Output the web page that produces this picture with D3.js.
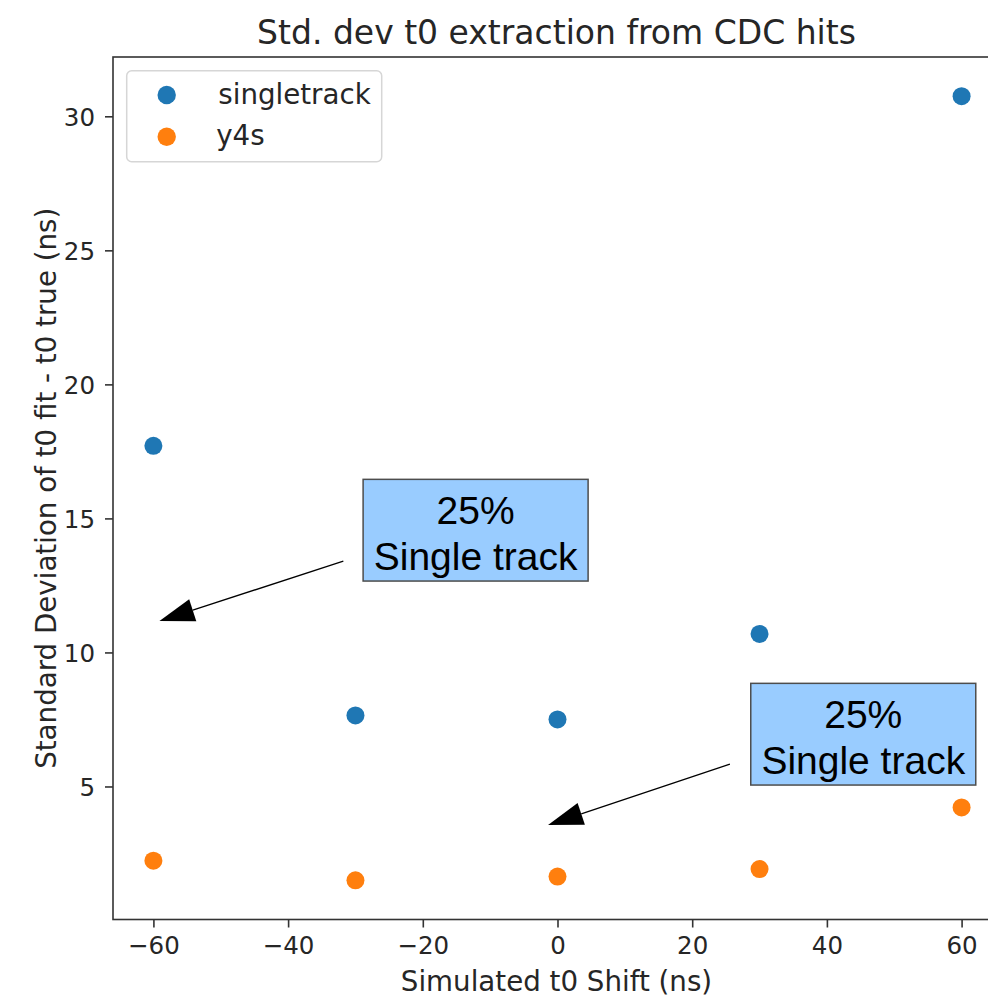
<!DOCTYPE html>
<html>
<head>
<meta charset="utf-8">
<script src="https://cdn.jsdelivr.net/npm/d3@7"></script>
<style>
  html, body { margin: 0; padding: 0; background: #fff; }
  svg { display: block; }
</style>
</head>
<body>
<svg id="chart" width="988" height="997"></svg>
<script>
// Simulated t0 shifts (ns) and the spread of the fitted t0
const shifts = [-60, -30, 0, 30, 60];
const singletrack = [17.71, 7.65, 7.50, 10.69, 30.75];
const y4s = [2.23, 1.50, 1.64, 1.92, 4.22];

const seriesNames = ["singletrack", "y4s"];
const seriesColors = ["#1f77b4", "#ff7f0e"];

const xTicks = [-60, -40, -20, 0, 20, 40, 60];
const yTicks = [5, 10, 15, 20, 25, 30];

// Callout boxes with arrows, positioned in data units
const calloutLines = ["25%", "Single track"];
const calloutBoxX = [-12.16, 45.4];
const calloutBoxY = [14.56, 6.95];
const calloutTailX = [-31.8, 25.6];
const calloutTailY = [13.41, 5.83];
const calloutTipX = [-59.1, -1.4];
const calloutTipY = [11.17, 3.56];

const svg = d3.select("#chart");
const textColor = "#262626";
const font = "DejaVu Sans, sans-serif";

const plot = { left: 113, right: 1002, top: 57, bottom: 919.5 };

// matplotlib-style 5% margins around the data
const allY = singletrack.concat(y4s);
const yMin = d3.min(allY), yMax = d3.max(allY);
const yPad = (yMax - yMin) * 0.05;
const xMin = d3.min(shifts), xMax = d3.max(shifts);
const xPad = (xMax - xMin) * 0.05;

const x = d3.scaleLinear().domain([xMin - xPad, xMax + xPad]).range([plot.left, plot.right]);
const y = d3.scaleLinear().domain([yMin - yPad, yMax + yPad]).range([plot.bottom, plot.top]);

// Title
svg.append("text")
  .attr("x", (plot.left + plot.right) / 2 - 1)
  .attr("y", 44)
  .attr("text-anchor", "middle")
  .attr("font-family", font)
  .attr("font-size", 33)
  .attr("fill", textColor)
  .text("Std. dev t0 extraction from CDC hits");

// Axes
const fmt = d => d < 0 ? "\u2212" + Math.abs(d) : String(d);

const xAxis = svg.append("g")
  .attr("transform", `translate(0,${plot.bottom})`)
  .call(d3.axisBottom(x).tickValues(xTicks).tickFormat(fmt).tickSize(8).tickPadding(9).tickSizeOuter(0));
const yAxis = svg.append("g")
  .attr("transform", `translate(${plot.left},0)`)
  .call(d3.axisLeft(y).tickValues(yTicks).tickFormat(fmt).tickSize(8).tickPadding(10).tickSizeOuter(0));

[xAxis, yAxis].forEach(g => {
  g.select(".domain").remove();
  g.selectAll(".tick line").attr("stroke", "#333").attr("stroke-width", 1.6);
  g.selectAll(".tick text")
    .attr("font-family", font)
    .attr("font-size", 24.5)
    .attr("fill", textColor);
});
xAxis.selectAll(".tick text").attr("dy", "0.71em");
yAxis.selectAll(".tick text").attr("dy", "0.38em");

// Frame
svg.append("rect")
  .attr("x", plot.left)
  .attr("y", plot.top)
  .attr("width", plot.right - plot.left)
  .attr("height", plot.bottom - plot.top)
  .attr("fill", "none")
  .attr("stroke", "#333")
  .attr("stroke-width", 1.6);

// Axis labels
svg.append("text")
  .attr("x", (plot.left + plot.right) / 2 - 1)
  .attr("y", 991)
  .attr("text-anchor", "middle")
  .attr("font-family", font)
  .attr("font-size", 27.7)
  .attr("fill", textColor)
  .text("Simulated t0 Shift (ns)");

svg.append("text")
  .attr("transform", `translate(56,${(plot.top + plot.bottom) / 2}) rotate(-90)`)
  .attr("text-anchor", "middle")
  .attr("font-family", font)
  .attr("font-size", 27.7)
  .attr("fill", textColor)
  .text("Standard Deviation of t0 fit - t0 true (ns)");

// Scatter points
const seriesValues = [singletrack, y4s];
seriesValues.forEach((vals, si) => {
  svg.append("g").selectAll("circle")
    .data(shifts.map((s, i) => [s, vals[i]]))
    .join("circle")
    .attr("cx", d => x(d[0]))
    .attr("cy", d => y(d[1]))
    .attr("r", 9)
    .attr("fill", seriesColors[si]);
});

// Legend
const legend = svg.append("g").attr("transform", "translate(126.7,70.7)");
legend.append("rect")
  .attr("width", 255).attr("height", 91)
  .attr("rx", 5)
  .attr("fill", "#fff").attr("fill-opacity", 0.8)
  .attr("stroke", "#d6d6d6").attr("stroke-width", 1.5);
seriesNames.forEach((name, i) => {
  const row = legend.append("g").attr("transform", `translate(0,${24.3 + i * 41.7})`);
  row.append("circle").attr("cx", 40).attr("cy", 0).attr("r", 9.2).attr("fill", seriesColors[i]);
  row.append("text")
    .attr("x", i === 0 ? 91.6 : 89.5)
    .attr("y", 8.5)
    .attr("font-family", font)
    .attr("font-size", 27.7)
    .attr("fill", textColor)
    .text(name);
});

// Callouts
const boxW = 225, boxH = 101.7;
calloutBoxX.forEach((bx, i) => {
  const g = svg.append("g");
  const tail = [x(calloutTailX[i]), y(calloutTailY[i])];
  const tip = [x(calloutTipX[i]), y(calloutTipY[i])];
  const ang = Math.atan2(tip[1] - tail[1], tip[0] - tail[0]);
  const headLen = 35, headHalf = 11.5;
  const base = [tip[0] - headLen * Math.cos(ang), tip[1] - headLen * Math.sin(ang)];
  const nx = -Math.sin(ang), ny = Math.cos(ang);

  g.append("line")
    .attr("x1", tail[0]).attr("y1", tail[1])
    .attr("x2", base[0]).attr("y2", base[1])
    .attr("stroke", "#000").attr("stroke-width", 1.3);
  g.append("path")
    .attr("d", d3.line()([
      tip,
      [base[0] + nx * headHalf, base[1] + ny * headHalf],
      [base[0] - nx * headHalf, base[1] - ny * headHalf]
    ]) + "Z")
    .attr("fill", "#000");

  const cx = x(bx), cy = y(calloutBoxY[i]);
  g.append("rect")
    .attr("x", cx - boxW / 2).attr("y", cy - boxH / 2)
    .attr("width", boxW).attr("height", boxH)
    .attr("fill", "#99ccff")
    .attr("stroke", "#4d4d4d").attr("stroke-width", 1.5);
  calloutLines.forEach((line, j) => {
    g.append("text")
      .attr("x", cx)
      .attr("y", cy - 6.5 + j * 46)
      .attr("text-anchor", "middle")
      .attr("font-family", "Liberation Sans, Arial, sans-serif")
      .attr("font-size", 39)
      .attr("fill", "#000")
      .text(line);
  });
});
</script>
</body>
</html>
